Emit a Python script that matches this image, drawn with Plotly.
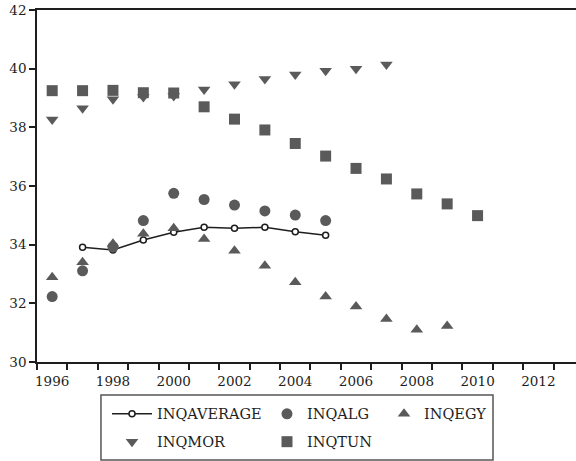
import plotly.graph_objects as go

# ---- data ----
years_avg = list(range(1997, 2006))
inq_average = [33.91, 33.82, 34.16, 34.42, 34.59, 34.56, 34.59, 34.44, 34.32]

years_alg = list(range(1996, 2006))
inq_alg = [32.23, 33.11, 33.92, 34.82, 35.75, 35.54, 35.35, 35.15, 35.01, 34.82]

years_egy = list(range(1996, 2010))
inq_egy = [32.89, 33.40, 34.03, 34.37, 34.56, 34.19, 33.79, 33.28, 32.72, 32.23,
           31.89, 31.47, 31.10, 31.23]

years_mor = list(range(1996, 2008))
inq_mor = [38.27, 38.65, 38.96, 39.03, 39.07, 39.29, 39.47, 39.65, 39.80, 39.93,
           40.00, 40.14]

years_tun = list(range(1996, 2011))
inq_tun = [39.25, 39.25, 39.26, 39.18, 39.17, 38.70, 38.28, 37.91, 37.45, 37.02,
           36.60, 36.24, 35.73, 35.39, 34.99]

x_labels = [str(y) for y in range(1996, 2013, 2)]
y_ticks = [30, 32, 34, 36, 38, 40, 42]

# ---- style ----
FONT = "DejaVu Serif"
GREY = "#5a5a5a"
INK = "#1e1e1e"

fig = go.Figure()
fig.add_trace(go.Scatter(
    x=years_avg, y=inq_average, name="INQAVERAGE", mode="lines+markers",
    line=dict(color=INK, width=1.5),
    marker=dict(symbol="circle", size=6, color="white", line=dict(color=INK, width=1.5)),
    legend="legend", legendgroup="a"))
fig.add_trace(go.Scatter(
    x=years_alg, y=inq_alg, name="INQALG", mode="markers",
    marker=dict(symbol="circle", size=11, color=GREY), legend="legend2", legendgroup="b"))
fig.add_trace(go.Scatter(
    x=years_egy, y=inq_egy, name="INQEGY", mode="markers",
    marker=dict(symbol="triangle-up", size=11, color=GREY), legend="legend3", legendgroup="c"))
fig.add_trace(go.Scatter(
    x=years_mor, y=inq_mor, name="INQMOR", mode="markers",
    marker=dict(symbol="triangle-down", size=11, color=GREY), legend="legend", legendgroup="d"))
fig.add_trace(go.Scatter(
    x=years_tun, y=inq_tun, name="INQTUN", mode="markers",
    marker=dict(symbol="square", size=11, color=GREY), legend="legend2", legendgroup="e"))

legend_common = dict(
    orientation="v", xanchor="left", yanchor="top", bgcolor="rgba(0,0,0,0)",
    borderwidth=0, font=dict(family=FONT, size=14.5, color=INK),
    traceorder="grouped", tracegroupgap=6, itemclick=False, itemdoubleclick=False)

fig.update_layout(
    width=576, height=461,
    margin=dict(l=37, r=0, t=10, b=99, autoexpand=False),
    paper_bgcolor="white", plot_bgcolor="white",
    font=dict(family=FONT, size=13.5, color=INK),
    showlegend=True,
    legend=dict(x=0.1299, y=-0.102, itemwidth=40, **legend_common),
    legend2=dict(x=0.4267, y=-0.102, **legend_common),
    legend3=dict(x=0.6438, y=-0.102, **legend_common),
    xaxis=dict(
        range=[1995.5, 2013.24],
        tickmode="array", tickvals=[int(s) for s in x_labels], ticktext=x_labels,
        ticks="", showline=True, linecolor=INK, linewidth=1.5, mirror=True,
        showgrid=False, zeroline=False, ticklabeloverflow="allow",
        tickfont=dict(family=FONT, size=13.5, color=INK),
        ticklabelstandoff=6,
        minor=dict(tickmode="linear", tick0=1995.5, dtick=1, ticks="outside",
                   ticklen=6, tickwidth=1.5, tickcolor=INK, showgrid=False),
    ),
    yaxis=dict(
        range=[30, 42], tickmode="array", tickvals=y_ticks,
        ticks="outside", ticklen=6, tickwidth=1.5, tickcolor=INK,
        showline=True, linecolor=INK, linewidth=1.5, ticklabeloverflow="allow",
        showgrid=False, zeroline=False,
        tickfont=dict(family=FONT, size=13.5, color=INK),
    ),
    shapes=[dict(type="rect", xref="paper", yref="paper",
                 x0=0.1187, x1=0.846, y0=-0.2784, y1=-0.0938,
                 line=dict(color="#555555", width=1.5), fillcolor="rgba(0,0,0,0)")],
)

fig.write_html("out.html")
